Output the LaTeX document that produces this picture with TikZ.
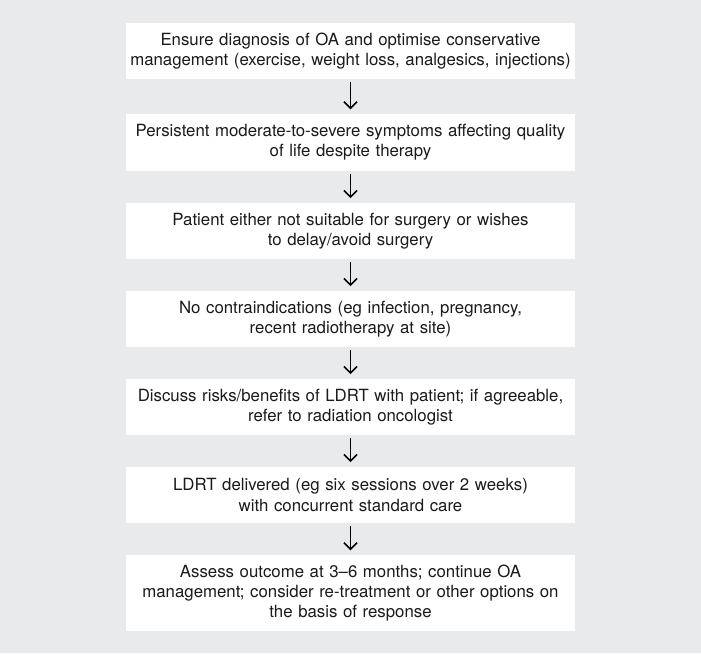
\documentclass[tikz,border=0pt]{standalone}
\usepackage{fontspec}
\setmainfont{TeX Gyre Heros}
\usetikzlibrary{arrows.meta}
\definecolor{bggray}{RGB}{233,234,236}
\definecolor{txtgray}{RGB}{26,26,26}
\tikzset{
	flowbox/.style={fill=white, draw=none, inner sep=0pt, minimum width=449pt, text width=449pt, align=center, minimum height=56.5pt, text=txtgray, font=\fontsize{16.8}{20.2}\selectfont},
	flowarrow/.style={-{Straight Barb[length=6.5pt,width=13pt]}, line width=1.6pt, shorten <=3pt, shorten >=4.5pt}
}
\begin{document}
\begin{tikzpicture}[x=1pt, y=1pt]
			%%%%% START %%%%%
			
			\fill[bggray] (0, 0) rectangle (701, -653);
			\useasboundingbox (0, 0) rectangle (701, -653);
			
			\node[flowbox] (diag) at (350.5, -51) {Ensure diagnosis of OA and optimise conservative\\management (exercise, weight loss, analgesics, injections)};
			\node[flowbox] (symp) at (350.5, -142.3) {Persistent moderate-to-severe symptoms affecting quality\\of life despite therapy};
			\node[flowbox] (surg) at (350.5, -231) {Patient either not suitable for surgery or wishes\\to delay/avoid surgery};
			\node[flowbox] (contra) at (350.5, -319) {No contraindications (eg infection, pregnancy,\\recent radiotherapy at site)};
			\node[flowbox] (discuss) at (350.5, -407) {Discuss risks/benefits of LDRT with patient; if agreeable,\\refer to radiation oncologist};
			\node[flowbox] (deliver) at (350.5, -495) {LDRT delivered (eg six sessions over 2 weeks)\\with concurrent standard care};
			\node[flowbox, minimum height=76pt] (assess) at (350.5, -593) {Assess outcome at 3--6 months; continue OA\\management; consider re-treatment or other options on\\the basis of response};
			
			\draw[flowarrow] (diag) -- (symp);
			\draw[flowarrow] (symp) -- (surg);
			\draw[flowarrow] (surg) -- (contra);
			\draw[flowarrow] (contra) -- (discuss);
			\draw[flowarrow] (discuss) -- (deliver);
			\draw[flowarrow] (deliver) -- (assess);
			
			%%%%% END %%%%%
\end{tikzpicture}
\end{document}
